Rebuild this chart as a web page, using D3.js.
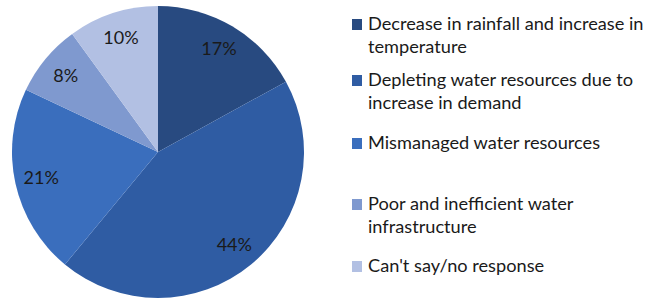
<!DOCTYPE html>
<html>
<head>
<meta charset="utf-8">
<script src="https://cdn.jsdelivr.net/npm/d3@7"></script>
<style>
  body { margin: 0; background: #fff; }
  text { font-family: Lato, "Liberation Sans", Arial, sans-serif; fill: #1a1a1a; }
</style>
</head>
<body>
<svg id="chart" width="653" height="300"></svg>
<script>
// data
var categories = [
  "Decrease in rainfall and increase in temperature",
  "Depleting water resources due to increase in demand",
  "Mismanaged water resources",
  "Poor and inefficient water infrastructure",
  "Can't say/no response"
];
var legendLines = [
  ["Decrease in rainfall and increase in", "temperature"],
  ["Depleting water resources due to", "increase in demand"],
  ["Mismanaged water resources"],
  ["Poor and inefficient water", "infrastructure"],
  ["Can't say/no response"]
];
var values = [17, 44, 21, 8, 10];
var colors = ["#284a80", "#2f5ca3", "#3a6ebd", "#7f99cf", "#b2c0e3"];

var svg = d3.select("#chart");

var cx = 158, cy = 152, radius = 146;

var pie = d3.pie().sort(null).value(function(d) { return d; });
var arc = d3.arc().innerRadius(0).outerRadius(radius);
// labels sit at ~0.82 of the radius
var labelArc = d3.arc().innerRadius(radius * 0.82).outerRadius(radius * 0.82);

var g = svg.append("g").attr("transform", "translate(" + cx + "," + cy + ")");
var arcs = pie(values);

g.selectAll("path.slice")
  .data(arcs)
  .enter().append("path")
  .attr("class", "slice")
  .attr("d", arc)
  .attr("fill", function(d, i) { return colors[i]; })
  .attr("stroke", "none");

g.selectAll("text.lbl")
  .data(arcs)
  .enter().append("text")
  .attr("class", "lbl")
  .attr("transform", function(d) { return "translate(" + labelArc.centroid(d) + ")"; })
  .attr("text-anchor", "middle")
  .attr("dy", "0.35em")
  .style("font-size", "18px")
  .text(function(d) { return d.data + "%"; });

// legend
var legendX = 352, lineH = 23;
var itemY = [30, 86, 149, 210, 272]; // baselines of first line

var leg = svg.append("g");
categories.forEach(function(c, i) {
  var item = leg.append("g");
  item.append("rect")
    .attr("x", legendX)
    .attr("y", itemY[i] - 11)
    .attr("width", 10)
    .attr("height", 11)
    .attr("fill", colors[i]);
  var t = item.append("text")
    .attr("x", legendX + 16)
    .attr("y", itemY[i])
    .style("font-size", "18.2px");
  legendLines[i].forEach(function(line, j) {
    t.append("tspan")
      .attr("x", legendX + 16)
      .attr("y", itemY[i] + j * lineH)
      .text(line);
  });
});
</script>
</body>
</html>
